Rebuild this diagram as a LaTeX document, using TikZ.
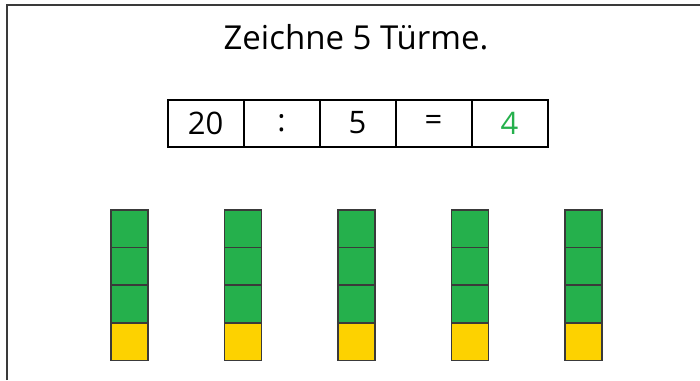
\documentclass[tikz,border=0pt]{standalone}
\usepackage{fontspec}
\setmainfont{Open Sans}
\definecolor{towergreen}{HTML}{25B04C}
\definecolor{toweryellow}{HTML}{FDD200}
\definecolor{framegray}{HTML}{3A3A3A}
\tikzset{
	cell/.style={draw=black, line width=2pt, minimum width=76pt, minimum height=47pt, inner sep=0pt, font=\fontsize{31}{33}\selectfont},
	cube/.style={draw=framegray, line width=1.6pt}
}
\begin{document}
\begin{tikzpicture}[x=1pt,y=-1pt]

				\useasboundingbox (0,0) rectangle (700,380);

				% Frame
				\draw[framegray, line width=1.2pt] (7,380) -- (7,5) -- (700,5);

				% Title
				\node[font=\fontsize{33}{35}\selectfont] (title) at (356,37) {Zeichne 5 Türme.};

				% Equation
				\node[cell] (c1) at (205.5,123) {20};
				\node[cell] (c2) at (281.5,123) {:};
				\node[cell] (c3) at (357.5,123) {5};
				\node[cell] (c4) at (433.5,123) {=};
				\node[cell, text=towergreen] (c5) at (509.5,123) {4};

				% Towers
				\foreach \x in {111,224.5,338,451.5,565}
				{
				\foreach \k in {0,1,2}
				\draw[cube, fill=towergreen] (\x,210+37.6*\k) rectangle ++(37,37.6);
				\draw[cube, fill=toweryellow] (\x,322.8) rectangle ++(37,37.6);
				}

			\end{tikzpicture}
\end{document}
